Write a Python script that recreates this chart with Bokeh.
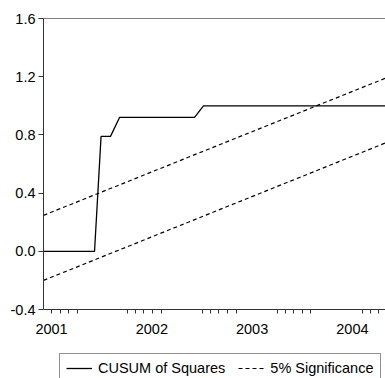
from bokeh.plotting import figure
from bokeh.layouts import column
from bokeh.models import (Range1d, LinearAxis, FixedTicker, Span, Legend,
                          LegendItem, NumeralTickFormatter)
from bokeh.embed import file_html
from bokeh.resources import INLINE

# Recursive residual test: CUSUM of squares with 5% significance bounds
cusum_dates = [2000.920, 2001.429, 2001.494, 2001.588, 2001.678, 2002.426, 2002.515, 2004.330]
cusum_values = [0.0, 0.0, 0.79, 0.79, 0.92, 0.92, 1.0, 1.0]

bound_dates = [2000.920, 2004.330]
upper_bound = [0.247, 1.19]
lower_bound = [-0.200, 0.745]

year_ticks = [2001, 2002, 2003, 2004]
month_ticks = [2001.00, 2001.09, 2001.17, 2001.26,
               2001.758, 2001.837, 2001.917, 2002.007, 2002.097,
               2002.505, 2002.585, 2002.665, 2002.755, 2002.844,
               2003.253, 2003.333, 2003.413, 2003.502, 2003.582,
               2004.101, 2004.180, 2004.260]
y_ticks = [-0.4, 0.0, 0.4, 0.8, 1.2, 1.6]

series_names = ["CUSUM of Squares", "5% Significance"]

FONT = "Liberation Sans"
FSIZE = "14.5px"
AXIS_COLOR = "#333333"
SOLID = dict(line_color="black", line_width=1.3)
DASHED = dict(line_color="black", line_width=1.2, line_dash="4 3")

p = figure(width=385, height=351,
           x_range=Range1d(2000.920, 2004.330), y_range=Range1d(-0.4, 1.6),
           x_axis_type=None, y_axis_type=None,
           toolbar_location=None, output_backend="svg",
           min_border_left=43, min_border_right=0,
           min_border_top=18, min_border_bottom=42)
p.outline_line_color = None
p.xgrid.visible = False
p.ygrid.visible = False

# y axis
yax = LinearAxis(ticker=FixedTicker(ticks=y_ticks),
                 formatter=NumeralTickFormatter(format="0.0"))
yax.axis_line_color = AXIS_COLOR
yax.major_tick_line_color = AXIS_COLOR
yax.major_tick_out = 5
yax.major_tick_in = 0
yax.minor_tick_line_color = None
yax.major_label_standoff = 3
yax.major_label_text_font = FONT
yax.major_label_text_font_size = FSIZE
yax.major_label_text_color = "black"
p.add_layout(yax, "left")

# x axis: year labels with short period ticks
xax = LinearAxis(ticker=FixedTicker(ticks=year_ticks, minor_ticks=month_ticks),
                 major_label_overrides={y: str(y) for y in year_ticks})
xax.axis_line_color = AXIS_COLOR
xax.major_tick_line_color = None
xax.major_tick_out = 0
xax.major_tick_in = 0
xax.minor_tick_line_color = AXIS_COLOR
xax.minor_tick_out = 4
xax.minor_tick_in = 0
xax.major_label_standoff = 10
xax.major_label_text_font = FONT
xax.major_label_text_font_size = FSIZE
xax.major_label_text_color = "black"
p.add_layout(xax, "below")

# top border
p.add_layout(Span(location=1.6, dimension="width", line_color="black", line_width=1.2))

p.line(cusum_dates, cusum_values, **SOLID)
p.line(bound_dates, upper_bound, **DASHED)
p.line(bound_dates, lower_bound, **DASHED)

# legend strip under the chart; key renderers sit outside the visible range
lg = figure(width=385, height=27, x_range=Range1d(0, 1), y_range=Range1d(0, 1),
            x_axis_type=None, y_axis_type=None,
            toolbar_location=None, output_backend="svg",
            min_border_left=0, min_border_right=0,
            min_border_top=0, min_border_bottom=0)
lg.outline_line_color = None
lg.xgrid.visible = False
lg.ygrid.visible = False
key_solid = lg.line(x=[2, 3], y=[2, 3], **SOLID)
key_dashed = lg.line(x=[2, 3], y=[2, 3], **DASHED)

legend = Legend(items=[LegendItem(label=series_names[0], renderers=[key_solid]),
                       LegendItem(label=series_names[1], renderers=[key_dashed])],
                orientation="horizontal", location=(16, -5), margin=0,
                padding=6, spacing=13, label_standoff=6,
                glyph_width=26, glyph_height=16, label_height=16,
                label_text_font=FONT, label_text_font_size=FSIZE,
                label_text_color="black",
                border_line_color="#222222", border_line_width=1,
                background_fill_color="white", background_fill_alpha=1.0)
lg.add_layout(legend, "center")

layout = column(p, lg, spacing=0)
open("out.html", "w").write(file_html(layout, INLINE))
